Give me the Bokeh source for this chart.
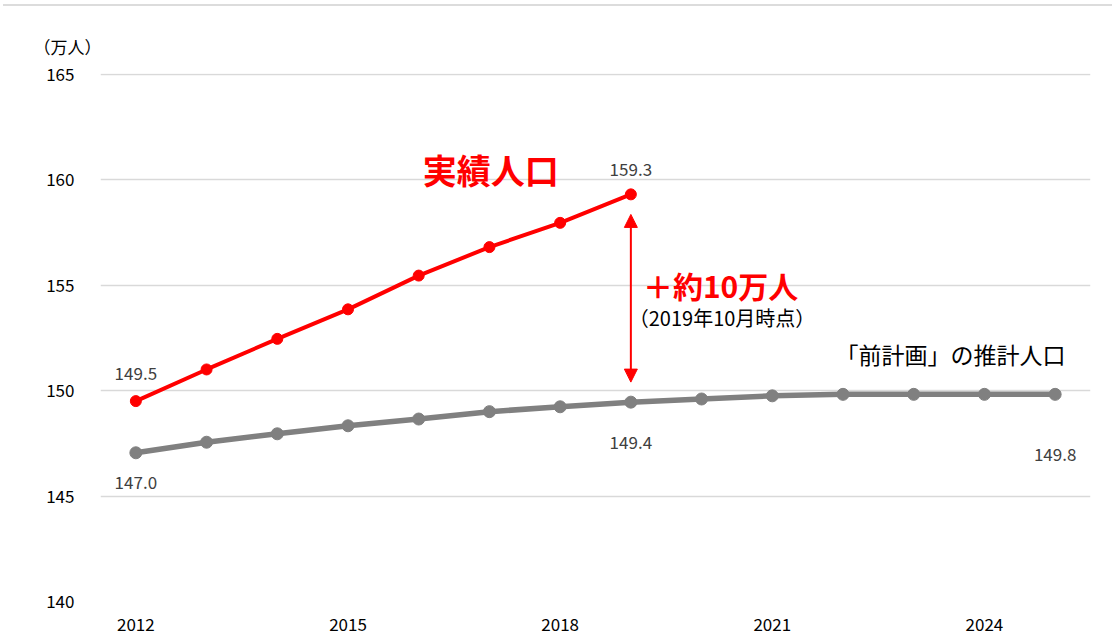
from bokeh.plotting import figure
from bokeh.models import FixedTicker, Label, Arrow, NormalHead, Div, Title
from bokeh.layouts import column
from bokeh.embed import file_html
from bokeh.resources import INLINE

# ---- data ----
red_years = [2012, 2013, 2014, 2015, 2016, 2017, 2018, 2019]
red_values = [149.5, 151.0, 152.45, 153.85, 155.45, 156.8, 157.95, 159.3]
gray_years = [2012, 2013, 2014, 2015, 2016, 2017, 2018, 2019, 2020, 2021, 2022, 2023, 2024, 2025]
gray_values = [147.05, 147.55, 147.95, 148.33, 148.65, 149.0, 149.23, 149.45, 149.6, 149.75, 149.82, 149.82, 149.82, 149.82]
red_label_idx = [0, 7]
red_label_text = ["149.5", "159.3"]
gray_label_idx = [0, 7, 13]
gray_label_text = ["147.0", "149.4", "149.8"]
x_ticks = [2012, 2015, 2018, 2021, 2024]
y_ticks = [140, 145, 150, 155, 160, 165]
unit_text = "（万人）"

JP = "Noto Sans CJK JP"
RED = "#ff0000"
GRAY = "#808080"
LBL = "#404040"

p = figure(width=1112, height=633, x_range=(2011.5, 2025.5), y_range=(140, 165.03),
           output_backend="svg", toolbar_location=None,
           min_border_left=100, min_border_right=22, min_border_top=67, min_border_bottom=38)
p.outline_line_color = None
p.xgrid.grid_line_color = None
p.ygrid.grid_line_color = "#d9d9d9"
p.ygrid.grid_line_width = 1.5
for ax in (p.xaxis, p.yaxis):
    ax.axis_line_color = None
    ax.major_tick_line_color = None
    ax.minor_tick_line_color = None
    ax.major_label_text_font = JP
    ax.major_label_text_font_size = "17px"
    ax.major_label_text_color = "#000000"
p.xaxis.ticker = FixedTicker(ticks=x_ticks)
p.yaxis.ticker = FixedTicker(ticks=y_ticks)
p.yaxis.major_label_standoff = 20
p.xaxis.major_label_standoff = 10

# unit label as title above the frame
p.title = Title(text=unit_text, align="left", offset=-67, text_font=JP,
                text_font_size="17px", text_font_style="normal", text_color="#000000",
                standoff=29)

# gray series
p.line(gray_years, gray_values, line_color=GRAY, line_width=5.5)
p.scatter(gray_years, gray_values, size=12, fill_color=GRAY, line_color=GRAY)
# red series
p.line(red_years, red_values, line_color=RED, line_width=4)
p.scatter(red_years, red_values, size=11, fill_color=RED, line_color=RED)

# data labels
gray_offsets = [-30, -40, -60]
for i, t, off in zip(gray_label_idx, gray_label_text, gray_offsets):
    p.add_layout(Label(x=gray_years[i], y=gray_values[i], text=t, y_offset=off,
                       text_align="center", text_baseline="middle", text_font=JP,
                       text_font_size="17px", text_color=LBL))
red_offsets = [28, 25]
for i, t, off in zip(red_label_idx, red_label_text, red_offsets):
    p.add_layout(Label(x=red_years[i], y=red_values[i], text=t, y_offset=off,
                       text_align="center", text_baseline="middle", text_font=JP,
                       text_font_size="17px", text_color=LBL))

# double arrow between series at 2019
ai = 7
p.add_layout(Arrow(x_start=gray_years[ai], y_start=red_values[ai] - 0.95,
                   x_end=gray_years[ai], y_end=gray_values[ai] + 0.95,
                   line_color=RED, line_width=2,
                   start=NormalHead(size=13, line_color=RED, fill_color=RED, line_width=1),
                   end=NormalHead(size=13, line_color=RED, fill_color=RED, line_width=1)))

# annotation texts
p.add_layout(Label(x=2017.02, y=160.5, text="実績人口", text_font=JP, text_font_size="34px",
                   text_font_style="bold", text_color=RED, text_align="center", text_baseline="middle"))
p.add_layout(Label(x=2019.17, y=155.0, text="＋約10万人", text_font=JP, text_font_size="30px",
                   text_font_style="bold", text_color=RED, text_align="left", text_baseline="middle"))
p.add_layout(Label(x=2018.97, y=153.45, text="（2019年10月時点）", text_font=JP, text_font_size="20px",
                   text_color="#000000", text_align="left", text_baseline="middle"))
p.add_layout(Label(x=2023.52, y=151.75, text="「前計画」の推計人口", text_font=JP, text_font_size="23px",
                   text_color="#000000", text_align="center", text_baseline="middle"))

top = Div(text="", width=1109, height=6, margin=(0, 0, 0, 3),
          styles={"border-bottom": "2px solid #dcdcdc"})
layout = column(top, p, spacing=0)
open("out.html", "w").write(file_html(layout, INLINE))
